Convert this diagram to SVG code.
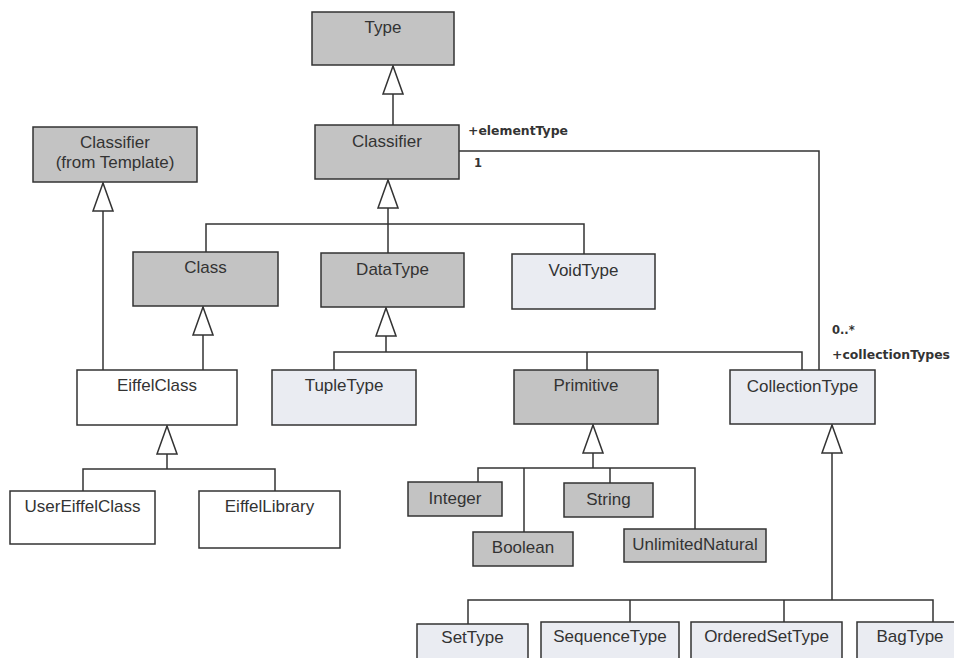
<svg xmlns="http://www.w3.org/2000/svg" width="954" height="658" viewBox="0 0 954 658">
  <style>
    .box { stroke: #333; stroke-width: 1.5; }
    .gray { fill: #c3c3c3; }
    .light { fill: #eaecf2; }
    .white { fill: #ffffff; }
    .lbl { font-family: "Liberation Sans", Arial, sans-serif; font-size: 17px; fill: #333; text-anchor: middle; }
    .role { font-family: "DejaVu Sans", Verdana, sans-serif; font-size: 11.5px; font-weight: bold; fill: #333; }
    .edge { fill: none; stroke: #333; stroke-width: 1.5; }
  </style>
  <defs>
    <!-- hollow generalization head, tip at the parent -->
    <marker id="gen" markerUnits="userSpaceOnUse" viewBox="0 0 30 22" refX="29" refY="11" markerWidth="30" markerHeight="22" orient="auto">
      <path d="M1,1 L29,11 L1,21 Z" fill="#fff" stroke="#333" stroke-width="1.5"/>
    </marker>
  </defs>
  <rect width="954" height="658" fill="#fff"/>

  <g id="connectors">
    <!-- Classifier -> Type -->
    <path class="edge" d="M393,125 V66" marker-end="url(#gen)"/>
    <!-- Class, DataType, VoidType -> Classifier -->
    <path class="edge" d="M206,252 V224 H584 V254"/>
    <path class="edge" d="M388,253 V180" marker-end="url(#gen)"/>
    <!-- EiffelClass -> Classifier (from Template) -->
    <path class="edge" d="M103,370 V183" marker-end="url(#gen)"/>
    <!-- EiffelClass -> Class -->
    <path class="edge" d="M203,370 V307" marker-end="url(#gen)"/>
    <!-- UserEiffelClass, EiffelLibrary -> EiffelClass -->
    <path class="edge" d="M83,491 V469 H275 V491"/>
    <path class="edge" d="M167,469 V426" marker-end="url(#gen)"/>
    <!-- TupleType, Primitive, CollectionType -> DataType -->
    <path class="edge" d="M334,370 V352 H802 V370"/>
    <path class="edge" d="M587,352 V370"/>
    <path class="edge" d="M386,352 V308" marker-end="url(#gen)"/>
    <!-- primitive types -> Primitive -->
    <path class="edge" d="M478,482 V468 H695 V529"/>
    <path class="edge" d="M524,468 V532"/>
    <path class="edge" d="M610,468 V483"/>
    <path class="edge" d="M593,468 V425" marker-end="url(#gen)"/>
    <!-- concrete collections -> CollectionType -->
    <path class="edge" d="M468,624 V600 H933 V622"/>
    <path class="edge" d="M630,600 V622"/>
    <path class="edge" d="M784,600 V622"/>
    <path class="edge" d="M832,600 V425" marker-end="url(#gen)"/>
    <!-- elementType / collectionTypes association -->
    <path class="edge" d="M459,151 H819 V370"/>
    <text class="role" x="468" y="135" textLength="100" lengthAdjust="spacingAndGlyphs">+elementType</text>
    <text class="role" x="474" y="167">1</text>
    <text class="role" x="832" y="334">0..*</text>
    <text class="role" x="832" y="359" textLength="118" lengthAdjust="spacingAndGlyphs">+collectionTypes</text>
  </g>

  <g id="Type">
    <rect class="box gray" x="312" y="12" width="142" height="53"/>
    <text class="lbl" x="383" y="33">Type</text>
  </g>
  <g id="Classifier">
    <rect class="box gray" x="315" y="125" width="144" height="54"/>
    <text class="lbl" x="387" y="147">Classifier</text>
  </g>
  <g id="ClassifierFromTemplate">
    <rect class="box gray" x="33" y="127" width="164" height="55"/>
    <text class="lbl" x="115" y="148">Classifier</text>
    <text class="lbl" x="115" y="168">(from Template)</text>
  </g>
  <g id="Class">
    <rect class="box gray" x="133" y="252" width="145" height="54"/>
    <text class="lbl" x="205.5" y="273">Class</text>
  </g>
  <g id="DataType">
    <rect class="box gray" x="321" y="253" width="143" height="54"/>
    <text class="lbl" x="392.5" y="275">DataType</text>
  </g>
  <g id="VoidType">
    <rect class="box light" x="512" y="254" width="143" height="55"/>
    <text class="lbl" x="583.5" y="276">VoidType</text>
  </g>
  <g id="EiffelClass">
    <rect class="box white" x="77" y="370" width="160" height="55"/>
    <text class="lbl" x="157" y="391">EiffelClass</text>
  </g>
  <g id="TupleType">
    <rect class="box light" x="272" y="370" width="144" height="55"/>
    <text class="lbl" x="344" y="391">TupleType</text>
  </g>
  <g id="Primitive">
    <rect class="box gray" x="514" y="370" width="144" height="54"/>
    <text class="lbl" x="586" y="391">Primitive</text>
  </g>
  <g id="CollectionType">
    <rect class="box light" x="730" y="370" width="145" height="54"/>
    <text class="lbl" x="802.5" y="392">CollectionType</text>
  </g>
  <g id="UserEiffelClass">
    <rect class="box white" x="10" y="491" width="145" height="53"/>
    <text class="lbl" x="82.5" y="512">UserEiffelClass</text>
  </g>
  <g id="EiffelLibrary">
    <rect class="box white" x="199" y="491" width="141" height="57"/>
    <text class="lbl" x="269.5" y="512">EiffelLibrary</text>
  </g>
  <g id="Integer">
    <rect class="box gray" x="408" y="482" width="94" height="34"/>
    <text class="lbl" x="455" y="504">Integer</text>
  </g>
  <g id="String">
    <rect class="box gray" x="564" y="483" width="89" height="34"/>
    <text class="lbl" x="608.5" y="505">String</text>
  </g>
  <g id="Boolean">
    <rect class="box gray" x="473" y="532" width="100" height="34"/>
    <text class="lbl" x="523" y="553">Boolean</text>
  </g>
  <g id="UnlimitedNatural">
    <rect class="box gray" x="624" y="529" width="142" height="33"/>
    <text class="lbl" x="695" y="550">UnlimitedNatural</text>
  </g>
  <g id="SetType">
    <rect class="box light" x="417" y="624" width="111" height="50"/>
    <text class="lbl" x="472.5" y="643">SetType</text>
  </g>
  <g id="SequenceType">
    <rect class="box light" x="541" y="622" width="138" height="50"/>
    <text class="lbl" x="610" y="642">SequenceType</text>
  </g>
  <g id="OrderedSetType">
    <rect class="box light" x="691" y="622" width="151" height="50"/>
    <text class="lbl" x="766.5" y="642">OrderedSetType</text>
  </g>
  <g id="BagType">
    <rect class="box light" x="857" y="622" width="106" height="50"/>
    <text class="lbl" x="910" y="642">BagType</text>
  </g>
</svg>
